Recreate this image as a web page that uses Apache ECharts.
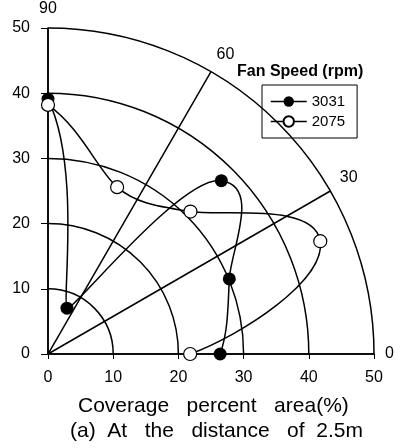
<!DOCTYPE html>
<html>
<head>
<meta charset="utf-8">
<script src="https://cdn.jsdelivr.net/npm/echarts@6/dist/echarts.min.js"></script>
<style>
  html, body { margin: 0; padding: 0; background: #fff; }
  #main { width: 411px; height: 448px; }
</style>
</head>
<body>
<div id="main"></div>
<script>
// angle of each measuring direction (deg) and coverage radius (%)
var angles = [0, 22.5, 45, 67.5, 90];
var r3031 = [26.4, 30.1, 37.6, 7.6, 39.1];
var r2075 = [21.8, 45.2, 30.9, 27.7, 38.2];
var tickLabels = [0, 10, 20, 30, 40, 50];
var angleLabels = [0, 30, 60, 90];

var cx = 48, cy = 354, R = 326;   // 原点与半径(px)

function pairs(rs) {
  return rs.map(function (r, i) { return [r, angles[i]]; });
}

// slope dr/dθ (per rad) at point i, finite differences
function slope(rs, i) {
  var n = rs.length;
  var a = Math.max(i - 1, 0), b = Math.min(i + 1, n - 1);
  return (rs[b] - rs[a]) / ((angles[b] - angles[a]) * Math.PI / 180);
}

// smooth curve drawn segment by segment, polar-aware tangents
function curve(name, rs) {
  return {
    name: name + '-curve',
    type: 'custom',
    coordinateSystem: 'polar',
    silent: true,
    z: 3,
    data: pairs(rs),
    renderItem: function (params, api) {
      var i = params.dataIndex;
      if (i >= rs.length - 1) return;
      var O = api.coord([0, 0]);
      function tangent(k) {
        var P = api.coord([rs[k], angles[k]]);
        var dx = P[0] - O[0], dy = P[1] - O[1];
        var len = Math.sqrt(dx * dx + dy * dy);
        var ur = [dx / len, dy / len];
        var ut = [ur[1], -ur[0]];
        var s = len / rs[k];
        var d = slope(rs, k);
        return { p: P, t: [s * (d * ur[0] + rs[k] * ut[0]), s * (d * ur[1] + rs[k] * ut[1])] };
      }
      var A = tangent(i), B = tangent(i + 1);
      var h = (angles[i + 1] - angles[i]) * Math.PI / 180 / 3;
      return {
        type: 'bezierCurve',
        shape: {
          x1: A.p[0], y1: A.p[1],
          cpx1: A.p[0] + A.t[0] * h, cpy1: A.p[1] + A.t[1] * h,
          cpx2: B.p[0] - B.t[0] * h, cpy2: B.p[1] - B.t[1] * h,
          x2: B.p[0], y2: B.p[1]
        },
        style: { stroke: '#000', lineWidth: 1.5, fill: null }
      };
    }
  };
}

var myChart = echarts.init(document.getElementById('main'));
var font = 'Liberation Sans, Arial, sans-serif';

var option = {
  animation: false,
  backgroundColor: '#fff',
  textStyle: { fontFamily: font, color: '#000' },
  title: [
    {
      text: 'Fan Speed (rpm)',
      left: 232, top: 59,
      textStyle: { fontSize: 16, fontWeight: 'bold', color: '#000', fontFamily: font }
    },
    {
      text: 'Coverage   percent   area(%)',
      left: 78, top: 396, padding: 0,
      textStyle: { fontSize: 21, fontWeight: 'normal', color: '#000', fontFamily: font }
    },
    {
      text: '(a)  At   the   distance   of  2.5m',
      left: 70, top: 421, padding: 0,
      textStyle: { fontSize: 21, fontWeight: 'normal', color: '#000', fontFamily: font }
    }
  ],
  legend: {
    orient: 'vertical',
    left: 262, top: 85,
    padding: [9, 12, 9, 8],
    itemGap: 5,
    itemWidth: 36,
    itemHeight: 13,
    borderColor: '#000',
    borderWidth: 1,
    lineStyle: { width: 1.5, color: '#000' },
    textStyle: { fontSize: 15, color: '#000', fontFamily: font },
    data: ['3031', '2075']
  },
  polar: {
    center: [cx, cy],
    radius: R
  },
  radiusAxis: {
    type: 'value',
    min: 0, max: 50, interval: 10,
    axisLine: { show: false },
    axisTick: { show: false },
    axisLabel: { show: false },
    splitLine: { show: true, lineStyle: { color: '#000', width: 1.5 } }
  },
  angleAxis: {
    type: 'value',
    min: 0, max: 90, interval: 30,
    startAngle: 0,
    endAngle: 90,
    clockwise: false,
    axisLine: { show: false },
    axisTick: { show: false },
    axisLabel: {
      fontSize: 16, color: '#000', margin: 11,
      formatter: function (v) { return angleLabels.indexOf(v) >= 0 ? String(v) : ''; }
    },
    splitLine: { show: true, lineStyle: { color: '#000', width: 1.5 } }
  },
  grid: {
    left: cx, top: cy - R, width: R, height: R
  },
  xAxis: {
    type: 'value',
    min: 0, max: 50, interval: 10,
    axisLine: { show: true, lineStyle: { color: '#000', width: 1.5 } },
    axisTick: { show: true, length: 5, lineStyle: { color: '#000' } },
    axisLabel: { fontSize: 16, color: '#000', margin: 16,
      formatter: function (v) { return tickLabels.indexOf(v) >= 0 ? String(v) : ''; } },
    splitLine: { show: false }
  },
  yAxis: {
    type: 'value',
    min: 0, max: 50, interval: 10,
    axisLine: { show: true, lineStyle: { color: '#000', width: 1.5 } },
    axisTick: { show: true, length: 7, lineStyle: { color: '#000' } },
    axisLabel: { fontSize: 16, color: '#000', margin: 18,
      formatter: function (v) { return tickLabels.indexOf(v) >= 0 ? String(v) : ''; } },
    splitLine: { show: false }
  },
  series: [
    curve('3031', r3031),
    curve('2075', r2075),
    {
      name: '3031',
      type: 'line',
      coordinateSystem: 'polar',
      symbol: 'circle',
      symbolSize: 13,
      itemStyle: { color: '#000' },
      lineStyle: { color: '#000', width: 0 },
      data: pairs(r3031),
      z: 5
    },
    {
      name: '2075',
      type: 'line',
      coordinateSystem: 'polar',
      symbol: 'circle',
      symbolSize: 13,
      itemStyle: { color: '#fff', borderColor: '#000', borderWidth: 1.2 },
      lineStyle: { color: '#000', width: 0 },
      data: pairs(r2075),
      z: 5
    }
  ]
};
myChart.setOption(option);
</script>
</body>
</html>
